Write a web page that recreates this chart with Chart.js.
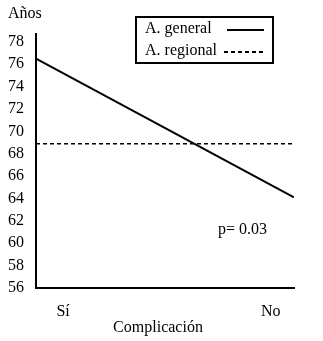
<!DOCTYPE html>
<html>
<head>
<meta charset="utf-8">
<script src="https://cdn.jsdelivr.net/npm/chart.js@4"></script>
<style>
  html, body { margin: 0; padding: 0; background: #fff; }
  #wrap { width: 323px; height: 341px; }
</style>
</head>
<body>
<div id="wrap"><canvas id="grafico"></canvas></div>
<script>
const categorias = ['Sí', 'No'];
const posCategorias = [0.105, 0.91]; // donde van las etiquetas en el eje x
const xExtremos = [0, 1];
const general = [76.5, 64.1];
const regional = [68.9, 68.9];
const yTicks = [56, 58, 60, 62, 64, 66, 68, 70, 72, 74, 76, 78];
const nombres = ['A. general', 'A. regional'];
const textoP = 'p= 0.03';

const fuente = '"Liberation Serif", "DejaVu Serif", serif';

// Textos extra: "Años", titulo del eje x, leyenda con recuadro y el valor p
const textosExtra = {
  id: 'textosExtra',
  afterDraw(chart) {
    const c = chart.ctx;
    c.save();
    c.fillStyle = '#000';
    c.font = '16px ' + fuente;
    c.textBaseline = 'middle';
    c.textAlign = 'left';
    c.fillText('Años', 8, 14);

    // leyenda
    c.lineWidth = 2;
    c.strokeStyle = '#000';
    c.strokeRect(136, 17, 137, 46);
    c.fillText(chart.data.datasets[0].label, 145, 29);
    c.fillText(chart.data.datasets[1].label, 145, 51);
    c.beginPath();
    c.moveTo(227, 30); c.lineTo(264, 30);
    c.stroke();
    c.setLineDash([4, 3]);
    c.beginPath();
    c.moveTo(224, 52); c.lineTo(264, 52);
    c.stroke();
    c.setLineDash([]);

    // valor p
    const x = chart.scales.x.getPixelForValue(0.705);
    const y = chart.scales.y.getPixelForValue(61.2);
    c.fillText(textoP, x, y);

    // titulo eje x
    c.textAlign = 'center';
    c.fillText('Complicación', 158, 328);
    c.restore();
  }
};

new Chart(document.getElementById('grafico'), {
  type: 'line',
  data: {
    datasets: [
      {
        label: nombres[0],
        data: xExtremos.map((x, i) => ({ x, y: general[i] })),
        borderColor: '#000',
        borderWidth: 2,
        pointRadius: 0,
        tension: 0
      },
      {
        label: nombres[1],
        data: xExtremos.map((x, i) => ({ x, y: regional[i] })),
        borderColor: '#000',
        borderWidth: 1.5,
        borderDash: [4, 3],
        pointRadius: 0,
        tension: 0
      }
    ]
  },
  options: {
    responsive: true,
    maintainAspectRatio: false,
    animation: false,
    layout: { padding: { top: 34, right: 29, left: 0, bottom: 0 } },
    plugins: { legend: { display: false }, tooltip: { enabled: false } },
    scales: {
      x: {
        type: 'linear',
        min: 0,
        max: 1,
        grid: { display: false, drawTicks: false },
        border: { color: '#000', width: 2 },
        afterBuildTicks(scale) {
          scale.ticks = posCategorias.map(v => ({ value: v }));
        },
        afterFit(scale) { scale.height = 53; },
        ticks: {
          color: '#000',
          font: { family: fuente, size: 16 },
          padding: 14,
          maxRotation: 0,
          autoSkip: false,
          callback: (v, i) => categorias[i]
        }
      },
      y: {
        min: 56,
        max: 78.7,
        grid: { display: false, drawTicks: false },
        border: { color: '#000', width: 2 },
        afterBuildTicks(scale) {
          scale.ticks = yTicks.map(v => ({ value: v }));
        },
        afterFit(scale) { scale.width = 36; },
        ticks: {
          color: '#000',
          font: { family: fuente, size: 16 },
          padding: 12,
          autoSkip: false
        }
      }
    }
  },
  plugins: [textosExtra]
});
</script>
</body>
</html>
